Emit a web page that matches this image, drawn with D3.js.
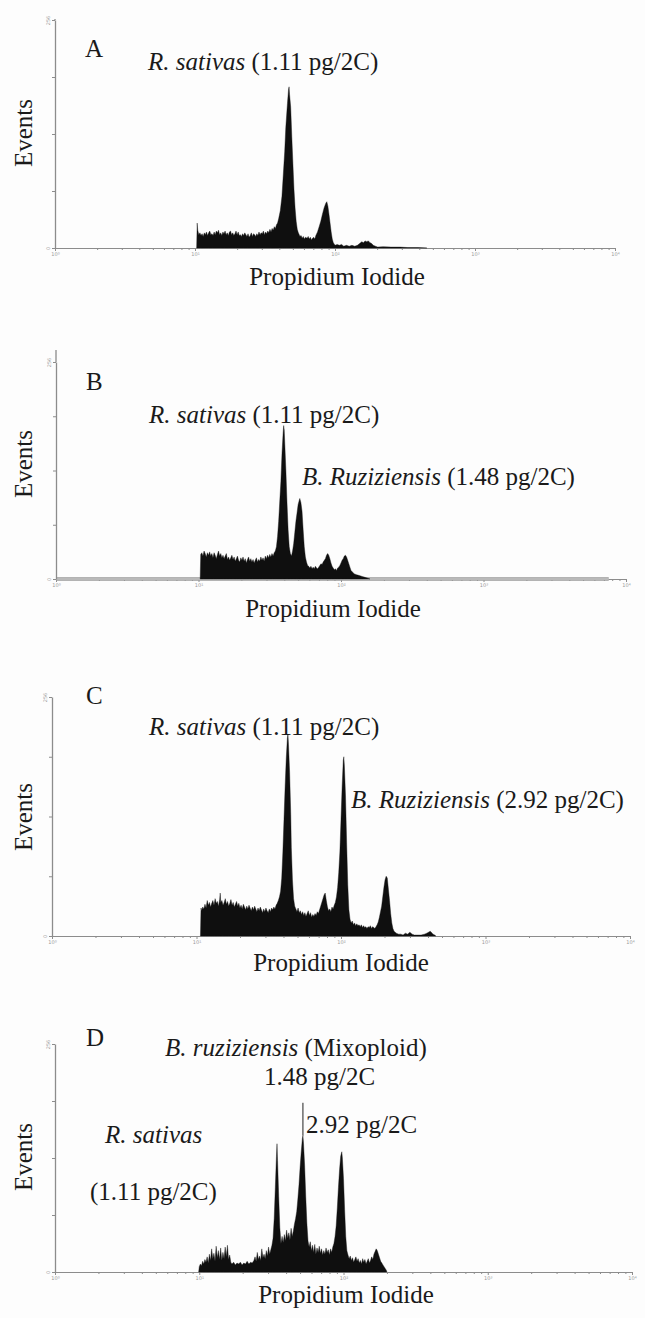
<!DOCTYPE html>
<html>
<head>
<meta charset="utf-8">
<script src="https://cdn.jsdelivr.net/npm/d3@7"></script>
<style>
  html, body { margin: 0; padding: 0; background: #ffffff; }
  svg { display: block; }
  .axis path, .axis line { stroke: #8c8c8c; }
  .axis text { font-family: "DejaVu Sans", sans-serif; font-size: 5px; fill: #9a9a9a; }
</style>
</head>
<body>
<div id="chart"></div>
<script>
// Histograms: [log channel (0-1024 = 10^0..10^4), events (0-256)]
const histA = [
  [259, 0], [260, 28], [261, 20], [263, 15], [265, 17], [267, 14], [269, 16], [271, 13],
  [273, 17], [275, 15], [277, 18], [279, 14], [281, 17], [283, 19], [285, 15], [287, 16],
  [289, 14], [291, 18], [293, 15], [295, 19], [297, 17], [299, 20], [301, 15], [303, 17],
  [305, 14], [307, 18], [309, 16], [311, 19], [313, 15], [315, 17], [317, 14], [319, 18],
  [321, 19], [323, 15], [325, 17], [327, 14], [329, 16], [331, 19], [333, 15], [335, 18],
  [337, 14], [339, 15], [341, 13], [343, 16], [345, 14], [347, 17], [349, 15], [351, 13],
  [353, 16], [355, 12], [357, 14], [359, 17], [361, 13], [363, 16], [365, 15], [367, 13],
  [369, 16], [371, 14], [373, 18], [375, 15], [377, 17], [379, 16], [381, 19], [383, 15],
  [385, 18], [387, 16], [389, 19], [391, 17], [393, 21], [395, 18], [397, 22], [399, 20],
  [401, 24], [403, 22], [405, 26], [407, 28], [409, 33], [412, 42], [415, 58], [417, 78],
  [420, 108], [422, 135], [425, 162], [427, 178], [428, 181], [429, 172], [431, 158], [433, 125],
  [435, 95], [437, 66], [439, 45], [441, 30], [443, 21], [445, 17], [448, 13], [450, 14],
  [452, 11], [454, 13], [456, 10], [458, 12], [461, 11], [463, 13], [465, 10], [467, 12],
  [469, 9], [471, 11], [473, 12], [475, 10], [477, 14], [480, 18], [483, 24], [486, 30],
  [489, 38], [492, 45], [495, 50], [497, 52], [499, 47], [501, 38], [503, 28], [505, 18],
  [507, 10], [509, 6], [512, 3], [516, 4], [520, 3], [524, 4], [528, 2], [533, 3],
  [538, 2], [543, 3], [548, 2], [553, 3], [557, 5], [561, 7], [564, 6], [567, 8],
  [570, 7], [573, 8], [576, 6], [579, 5], [582, 3], [586, 2], [590, 1], [600, 1.5],
  [615, 1], [631, 1], [645, 0.5], [664, 0.5], [680, 0]
];

const histB = [
  [259, 0], [260, 29], [262, 31], [264, 27], [266, 33], [268, 30], [270, 26], [272, 31],
  [274, 28], [276, 32], [278, 27], [280, 30], [282, 25], [284, 31], [286, 28], [288, 24],
  [290, 29], [292, 33], [294, 27], [296, 30], [298, 25], [300, 28], [302, 24], [304, 27],
  [306, 30], [308, 23], [310, 26], [312, 22], [314, 25], [316, 28], [318, 23], [320, 26],
  [322, 21], [324, 24], [326, 27], [328, 22], [330, 20], [332, 25], [334, 22], [336, 26],
  [338, 21], [340, 24], [342, 19], [344, 23], [346, 26], [348, 21], [350, 24], [352, 20],
  [354, 23], [356, 19], [358, 22], [360, 25], [362, 20], [364, 23], [366, 21], [368, 26],
  [370, 22], [372, 25], [374, 21], [376, 27], [378, 24], [380, 28], [382, 25], [384, 29],
  [386, 26], [388, 30], [390, 27], [392, 31], [394, 33], [396, 38], [398, 50], [400, 68],
  [402, 92], [404, 115], [406, 148], [408, 172], [409, 181], [410, 176], [411, 160], [413, 128],
  [415, 90], [417, 58], [419, 38], [421, 30], [423, 27], [425, 33], [427, 42], [429, 55],
  [431, 68], [433, 78], [435, 88], [437, 93], [438, 95], [440, 90], [442, 80], [444, 58],
  [446, 38], [448, 26], [450, 20], [452, 16], [454, 15], [456, 13], [458, 15], [460, 12],
  [462, 14], [464, 12], [466, 15], [468, 13], [470, 12], [472, 14], [474, 16], [476, 18],
  [478, 17], [480, 20], [482, 22], [484, 24], [486, 28], [488, 30], [490, 28], [492, 24],
  [494, 19], [496, 15], [498, 13], [500, 11], [502, 12], [504, 10], [506, 13], [508, 14],
  [510, 16], [512, 19], [514, 22], [516, 24], [518, 27], [520, 28], [522, 26], [524, 22],
  [526, 18], [528, 14], [530, 10], [533, 8], [536, 6], [540, 5], [545, 4], [550, 3],
  [555, 2], [560, 1], [564, 0]
];

const histC = [
  [263, 0], [264, 30], [265, 27], [267, 31], [269, 29], [271, 34], [273, 30], [275, 38],
  [277, 33], [279, 36], [281, 31], [283, 35], [285, 38], [287, 33], [289, 40], [291, 35],
  [293, 37], [295, 32], [297, 39], [298, 46], [299, 36], [301, 38], [303, 33], [305, 36],
  [307, 40], [309, 34], [311, 37], [313, 32], [315, 35], [317, 39], [319, 33], [321, 36],
  [323, 31], [325, 34], [327, 37], [329, 32], [331, 35], [333, 30], [335, 33], [337, 29],
  [339, 34], [341, 31], [343, 28], [345, 32], [347, 29], [349, 33], [351, 30], [353, 27],
  [355, 31], [357, 28], [359, 32], [361, 29], [363, 26], [365, 30], [367, 27], [369, 31],
  [371, 28], [373, 25], [375, 29], [377, 26], [379, 30], [381, 27], [383, 25], [385, 29],
  [387, 26], [389, 30], [391, 28], [393, 31], [395, 29], [397, 33], [399, 35], [401, 38],
  [403, 42], [405, 48], [407, 62], [409, 90], [411, 125], [413, 160], [415, 190], [417, 212],
  [418, 216], [419, 205], [421, 175], [423, 130], [424, 95], [426, 60], [428, 40], [430, 32],
  [432, 29], [434, 26], [436, 30], [438, 25], [440, 27], [442, 23], [444, 26], [446, 22],
  [448, 25], [450, 21], [452, 24], [454, 27], [456, 22], [458, 25], [460, 20], [462, 23],
  [464, 21], [466, 24], [468, 22], [470, 26], [472, 24], [474, 28], [476, 32], [478, 36],
  [480, 40], [482, 44], [484, 46], [486, 38], [488, 31], [490, 27], [492, 29], [494, 26],
  [496, 31], [498, 29], [500, 33], [502, 36], [504, 42], [506, 52], [508, 68], [510, 90],
  [512, 125], [514, 160], [516, 188], [517, 192], [518, 182], [520, 150], [522, 100], [524, 55],
  [526, 28], [528, 18], [530, 14], [532, 16], [534, 12], [536, 14], [538, 11], [540, 13],
  [542, 11], [544, 12], [546, 10], [548, 12], [550, 9], [552, 11], [554, 9], [556, 10],
  [558, 8], [560, 10], [562, 9], [564, 11], [566, 8], [568, 10], [570, 9], [572, 8],
  [574, 10], [576, 12], [578, 15], [580, 20], [582, 26], [584, 32], [586, 42], [588, 52],
  [590, 60], [592, 64], [594, 62], [596, 50], [598, 38], [600, 24], [602, 14], [604, 8],
  [606, 5], [610, 3], [614, 2], [618, 2], [622, 1], [626, 3], [630, 2], [634, 4],
  [638, 2], [642, 1], [648, 1], [654, 1], [660, 2], [664, 3], [667, 4], [670, 5],
  [672, 4], [675, 2], [678, 1], [680, 0]
];

const histD = [
  [255, 0], [256, 6], [258, 9], [260, 7], [262, 12], [264, 9], [266, 14], [268, 11],
  [270, 17], [272, 10], [274, 20], [276, 13], [278, 26], [280, 15], [282, 21], [284, 12],
  [286, 29], [288, 16], [290, 24], [292, 14], [294, 27], [296, 13], [298, 22], [300, 15],
  [302, 28], [304, 17], [306, 30], [308, 14], [310, 19], [312, 11], [314, 9], [317, 11],
  [320, 8], [323, 10], [326, 9], [329, 11], [332, 8], [335, 10], [338, 9], [341, 12],
  [344, 9], [347, 11], [350, 10], [353, 13], [355, 17], [357, 12], [359, 22], [361, 14],
  [363, 18], [365, 13], [367, 26], [369, 16], [371, 20], [373, 15], [375, 24], [377, 18],
  [379, 28], [381, 20], [383, 25], [385, 30], [387, 38], [389, 60], [391, 95], [393, 130],
  [394, 144], [395, 125], [397, 85], [399, 50], [401, 32], [403, 40], [405, 33], [407, 42],
  [409, 35], [411, 47], [413, 38], [415, 44], [417, 36], [419, 49], [421, 40], [423, 46],
  [425, 54], [427, 60], [429, 68], [431, 82], [433, 98], [435, 118], [437, 135], [439, 150],
  [440, 153], [441, 145], [443, 120], [445, 85], [447, 55], [449, 35], [451, 28], [453, 34],
  [455, 24], [457, 30], [459, 22], [461, 31], [463, 20], [465, 27], [467, 22], [469, 29],
  [471, 21], [473, 26], [475, 19], [477, 24], [479, 20], [481, 27], [483, 22], [485, 25],
  [487, 19], [489, 26], [491, 22], [493, 28], [495, 32], [497, 40], [499, 52], [501, 72],
  [503, 95], [505, 115], [507, 130], [509, 135], [510, 128], [512, 105], [514, 70], [516, 40],
  [518, 24], [520, 19], [522, 15], [524, 18], [526, 13], [528, 16], [530, 11], [532, 14],
  [534, 17], [536, 12], [538, 15], [540, 10], [542, 13], [544, 9], [546, 15], [548, 11],
  [550, 14], [552, 9], [554, 12], [556, 15], [558, 10], [560, 13], [562, 17], [564, 14],
  [566, 20], [568, 23], [570, 26], [572, 24], [574, 20], [576, 16], [578, 12], [580, 10],
  [582, 8], [584, 6], [586, 4], [588, 2], [589, 0]
];

// pointer drawn from the 2.92 pg/2C peak in panel D: [channel, from events, to events]
const pointerD = [440, 153, 190];

const decadeTicks = [0, 256, 512, 768, 1024];
const decadeLabels = ["10\u2070", "10\u00b9", "10\u00b2", "10\u00b3", "10\u2074"];
const eventTicks = [0, 64, 128, 192, 256];

const W = 645, H = 1318;
const SERIF = "'Liberation Serif', 'Times New Roman', 'DejaVu Serif', serif";

const panels = [
  {
    key: "A", data: histA, x0: 55, x1: 615, yb: 248, yt: 20, axisTop: 19,
    letter: [85, 57], events: [32, 133], pi: [337, 285],
    labels: [{ x: 148, y: 70, parts: [["R. sativas", true], [" (1.11 pg/2C)", false]] }]
  },
  {
    key: "B", data: histB, x0: 56, x1: 626, yb: 579, yt: 362, axisTop: 350, band: 993,
    letter: [86, 390], events: [32, 464], pi: [333, 617],
    labels: [
      { x: 149, y: 423, parts: [["R. sativas", true], [" (1.11 pg/2C)", false]] },
      { x: 302, y: 485, parts: [["B. Ruziziensis", true], [" (1.48 pg/2C)", false]] }
    ]
  },
  {
    key: "C", data: histC, x0: 52, x1: 630, yb: 936, yt: 697, axisTop: 697,
    letter: [86, 704], events: [32, 817], pi: [341, 971],
    labels: [
      { x: 149, y: 735, parts: [["R. sativas", true], [" (1.11 pg/2C)", false]] },
      { x: 351, y: 808, parts: [["B. Ruziziensis", true], [" (2.92 pg/2C)", false]] }
    ]
  },
  {
    key: "D", data: histD, x0: 55, x1: 632, yb: 1272, yt: 1044, axisTop: 1044, pointer: pointerD,
    letter: [86, 1046], events: [32, 1157], pi: [346, 1303],
    labels: [
      { x: 165, y: 1056, parts: [["B. ruziziensis", true], [" (Mixoploid)", false]] },
      { x: 264, y: 1085, parts: [["1.48 pg/2C", false]] },
      { x: 306, y: 1133, parts: [["2.92 pg/2C", false]] },
      { x: 105, y: 1143, parts: [["R. sativas", true]] },
      { x: 90, y: 1200, parts: [["(1.11 pg/2C)", false]] }
    ]
  }
];

const svg = d3.select("#chart").append("svg").attr("width", W).attr("height", H);
svg.append("rect").attr("width", W).attr("height", H).attr("fill", "#fdfdfd");

// minor log ticks inside each decade
const minorTicks = [];
for (let dec = 0; dec < 4; dec++) {
  for (let k = 2; k < 10; k++) minorTicks.push(256 * (dec + Math.log10(k)));
}

function label(g, x, y) {
  return g.append("text")
    .attr("x", x)
    .attr("y", y)
    .attr("font-family", SERIF)
    .attr("font-size", 25)
    .attr("fill", "#1a1a1a");
}

panels.forEach((p) => {
  const g = svg.append("g").attr("class", "panel-" + p.key);
  const x = d3.scaleLinear().domain([0, 1024]).range([p.x0, p.x1]);
  const y = d3.scaleLinear().domain([0, 256]).range([p.yb, p.yt]);

  p.labels.forEach((l) => {
    const t = label(g, l.x, l.y);
    l.parts.forEach(([s, it]) => {
      t.append("tspan").attr("font-style", it ? "italic" : "normal").text(s);
    });
  });

  label(g, p.letter[0], p.letter[1]).text(p.key);

  label(g, 0, 0)
    .attr("transform", `translate(${p.events[0]},${p.events[1]}) rotate(-90)`)
    .attr("text-anchor", "middle")
    .text("Events");

  label(g, p.pi[0], p.pi[1]).attr("text-anchor", "middle").text("Propidium Iodide");

  // x axis: minor then major ticks
  g.append("g")
    .attr("class", "axis")
    .attr("transform", `translate(0,${p.yb})`)
    .call(d3.axisBottom(x).tickValues(minorTicks).tickSize(2).tickSizeOuter(0).tickFormat(""));

  g.append("g")
    .attr("class", "axis")
    .attr("transform", `translate(0,${p.yb})`)
    .call(
      d3.axisBottom(x)
        .tickValues(decadeTicks)
        .tickSize(3)
        .tickSizeOuter(0)
        .tickFormat((d, i) => decadeLabels[i])
    )
    .call((a) => a.selectAll("text").attr("dy", "0.3em"));

  if (p.band) {
    g.append("line")
      .attr("x1", x(0)).attr("x2", x(p.band))
      .attr("y1", p.yb).attr("y2", p.yb)
      .attr("stroke", "#9a9a9a").attr("stroke-width", 3.5);
    g.append("line")
      .attr("x1", x(0)).attr("x2", x(p.band))
      .attr("y1", p.yb).attr("y2", p.yb)
      .attr("stroke", "#d8d8d8").attr("stroke-width", 1.2);
  }

  const yAxis = g.append("g")
    .attr("class", "axis")
    .attr("transform", `translate(${p.x0},0)`)
    .call(
      d3.axisLeft(y)
        .tickValues(eventTicks)
        .tickSize(3)
        .tickSizeOuter(0)
        .tickFormat((d) => (d === 0 || d === 256 ? d : ""))
    );
  yAxis.selectAll("text")
    .attr("transform", "rotate(-90,-5,0)")
    .attr("text-anchor", "middle")
    .attr("x", -5)
    .attr("dy", "0");
  yAxis.select(".domain").attr("stroke-width", 1.3);
  if (p.axisTop < p.yt) {
    g.append("line")
      .attr("x1", p.x0).attr("x2", p.x0)
      .attr("y1", p.yt).attr("y2", p.axisTop)
      .attr("stroke", "#8c8c8c").attr("stroke-width", 1.3);
  }

  const area = d3.area()
    .x((d) => x(d[0]))
    .y0(y(0))
    .y1((d) => y(d[1]))
    .curve(d3.curveLinear);

  g.append("path")
    .datum(p.data)
    .attr("d", area)
    .attr("fill", "#0f0f0f")
    .attr("stroke", "#0f0f0f")
    .attr("stroke-width", 0.4);

  if (p.pointer) {
    g.append("line")
      .attr("x1", x(p.pointer[0])).attr("x2", x(p.pointer[0]))
      .attr("y1", y(p.pointer[1])).attr("y2", y(p.pointer[2]))
      .attr("stroke", "#222").attr("stroke-width", 1);
  }
});
</script>
</body>
</html>
